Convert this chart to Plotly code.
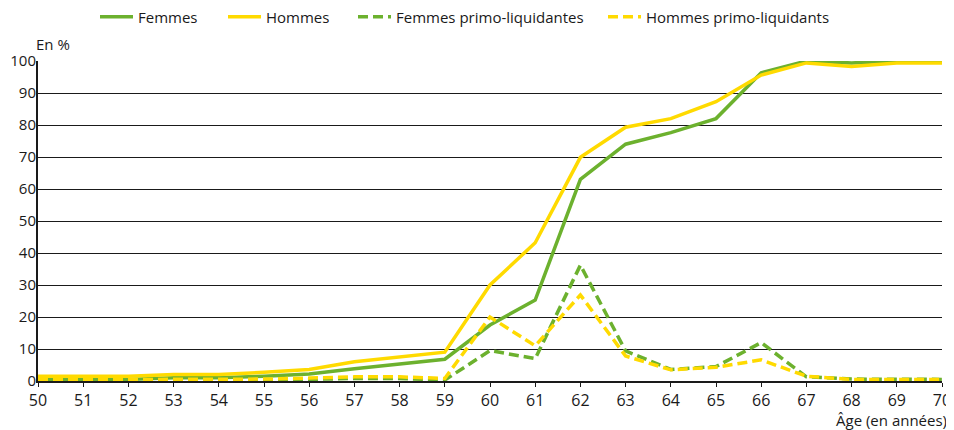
import plotly.graph_objects as go

ages = list(range(50, 71))
femmes = [0.5, 0.5, 0.5, 1.0, 1.0, 1.5, 2.2, 3.8, 5.2, 6.8, 17.5, 25.3, 63.0, 74.0, 77.6, 82.0, 96.3, 100.0, 99.4, 100.0, 100.0]
hommes = [1.5, 1.5, 1.5, 2.0, 2.0, 2.7, 3.6, 6.0, 7.4, 9.0, 30.0, 43.2, 69.9, 79.3, 82.0, 87.3, 95.6, 99.4, 98.3, 99.4, 99.4]
femmes_primo = [0.2, 0.2, 0.2, 0.2, 0.2, 0.0, 0.5, 0.8, 0.8, 0.3, 9.5, 7.0, 36.2, 9.4, 3.6, 4.5, 12.0, 1.3, 0.6, 0.5, 0.5]
hommes_primo = [0.4, 0.4, 0.4, 0.4, 0.4, 0.6, 0.9, 1.3, 1.3, 0.8, 20.0, 11.0, 26.9, 7.8, 3.5, 4.3, 6.6, 1.5, 0.5, 0.5, 0.5]
series_names = ["Femmes", "Hommes", "Femmes primo-liquidantes", "Hommes primo-liquidants"]

GREEN = "#6CB12E"
YELLOW = "#FFDA00"
FONT = "Open Sans"
DASH = "10px,5px"

fig = go.Figure()
series = [
    (femmes, GREEN, "solid", "legend"),
    (hommes, YELLOW, "solid", "legend2"),
    (femmes_primo, GREEN, DASH, "legend3"),
    (hommes_primo, YELLOW, DASH, "legend4"),
]
for name, (vals, col, dash, leg) in zip(series_names, series):
    fig.add_trace(go.Scatter(x=ages, y=vals, name=name, mode="lines", legend=leg,
                             line=dict(color=col, width=3.5, dash=dash)))

# page has an 8px body margin; plot area on the page: x 38..942, y 61..381
def px_x(p):
    return (p - 38) / 904

def px_y(p):
    return (381 - p) / 320

leg_common = dict(orientation="h", xanchor="left", y=px_y(17), yanchor="middle",
                  font=dict(size=15), itemwidth=33, bgcolor="rgba(0,0,0,0)")

fig.update_layout(
    width=946, height=422,
    margin=dict(l=30, r=12, t=53, b=49, autoexpand=False),
    paper_bgcolor="white", plot_bgcolor="white",
    font=dict(family=FONT, size=15, color="#1a1a1a"),
    showlegend=True,
    legend=dict(x=px_x(95), **leg_common),
    legend2=dict(x=px_x(223), **leg_common),
    legend3=dict(x=px_x(353), **leg_common),
    legend4=dict(x=px_x(603), **leg_common),
    xaxis=dict(range=[50, 70], dtick=1, tick0=50, showgrid=False, zeroline=False,
               showline=True, linecolor="#1a1a1a", linewidth=1.5, automargin=False,
               ticks="outside", ticklen=4, tickcolor="#1a1a1a", tickfont=dict(size=16)),
    yaxis=dict(range=[0, 100], dtick=10, showgrid=True, gridcolor="#1a1a1a", gridwidth=1,
               zeroline=False, showline=True, linecolor="#1a1a1a", linewidth=2, automargin=False,
               ticks="", ticklen=0, ticklabelstandoff=-3, tickfont=dict(size=15)),
    annotations=[
        dict(text="En %", xref="paper", yref="paper", x=px_x(34), y=px_y(44), xanchor="left",
             yanchor="middle", showarrow=False, font=dict(size=15)),
        dict(text="Âge (en années)", xref="paper", yref="paper", x=px_x(949), y=px_y(420),
             xanchor="right", yanchor="middle", showarrow=False, font=dict(size=15)),
    ],
)

fig.write_html("out.html")
